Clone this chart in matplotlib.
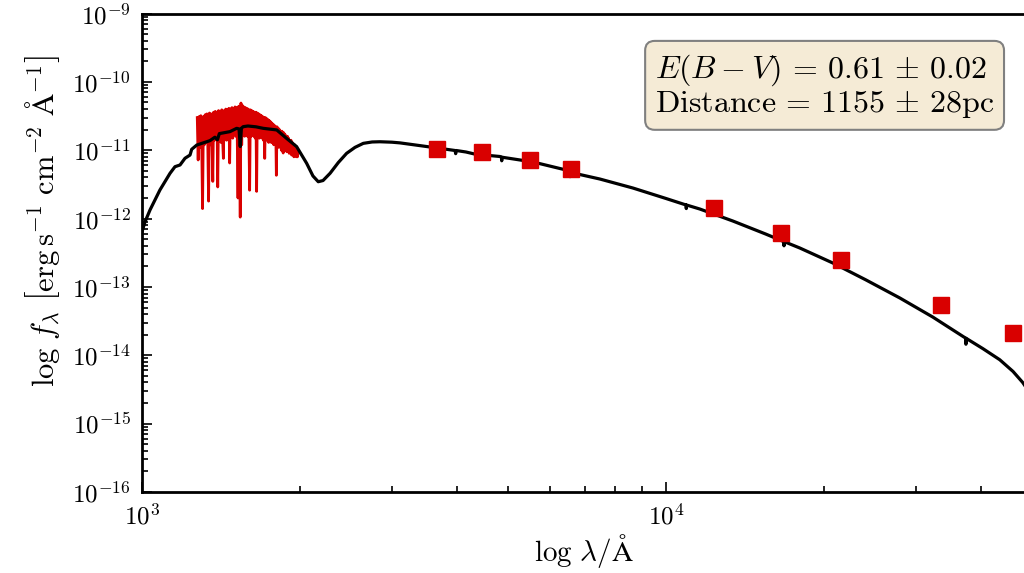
import numpy as np
import matplotlib
matplotlib.use("Agg")
import matplotlib.pyplot as plt

plt.rcParams["font.family"] = "serif"
plt.rcParams["font.serif"] = ["cmr10"]
plt.rcParams["mathtext.fontset"] = "cm"
plt.rcParams["axes.formatter.use_mathtext"] = True

# model SED (Angstrom, erg/s/cm2/A)
model_wave = [1000, 1013, 1036, 1082, 1131, 1156, 1182, 1208, 1235, 1244,
              1272, 1348, 1378, 1393, 1405, 1472, 1516, 1532, 1540, 1548,
              1560, 1593, 1650, 1704, 1808, 1888, 1973, 2062, 2120, 2170,
              2216, 2286, 2370, 2458, 2550, 2645, 2750, 2846, 3000, 3108,
              3592, 3960, 3970, 3980, 4153, 4340, 4350, 4360, 4824, 4855,
              4861, 4867, 5576, 6446, 6555, 6563, 6571, 7482, 8650, 10000,
              10930, 10940, 10950, 11610, 13420, 15510, 16800, 16810, 16820,
              18020, 20830, 24080, 27970, 32320, 37360, 37400, 37440, 40300,
              43400, 46000, 48000, 48700]
model_flux = [6.4e-13, 8.9e-13, 1.34e-12, 2.62e-12, 4.59e-12, 5.74e-12,
              6.08e-12, 7.62e-12, 8.5e-12, 1.03e-11, 1.19e-11, 1.38e-11,
              1.55e-11, 1.42e-11, 1.75e-11, 1.87e-11, 2.09e-11, 2.05e-11,
              1.13e-11, 2.1e-11, 2.21e-11, 2.26e-11, 2.2e-11, 2.09e-11,
              1.98e-11, 1.49e-11, 1.13e-11, 6.44e-12, 4.2e-12, 3.46e-12,
              3.6e-12, 4.6e-12, 6.6e-12, 9.0e-12, 1.1e-11, 1.26e-11, 1.32e-11,
              1.33e-11, 1.31e-11, 1.28e-11, 1.1e-11, 9.9e-12, 8.9e-12, 9.9e-12,
              9.42e-12, 8.7e-12, 7.8e-12, 8.7e-12, 8.09e-12, 7.9e-12, 7.0e-12,
              7.9e-12, 6.73e-12, 5.14e-12, 4.75e-12, 4.1e-12, 4.74e-12,
              3.79e-12, 2.8e-12, 1.97e-12, 1.58e-12, 1.4e-12, 1.58e-12,
              1.38e-12, 9.22e-13, 5.94e-13, 4.6e-13, 4.0e-13, 4.6e-13, 3.71e-13,
              2.24e-13, 1.27e-13, 6.89e-14, 3.63e-14, 1.78e-14, 1.45e-14,
              1.77e-14, 1.25e-14, 8.6e-15, 5.8e-15, 4.0e-15, 3.4e-15]

# UV spectrum, 5 A sampling, flux in 1e-11 erg/s/cm2/A
uv_wave = np.arange(1275, 1990, 5)
uv_flux = [3.0, 0.72, 3.1, 1.1, 3.2, 1.3, 0.14, 3.1, 1.2, 3.3,
           1.3, 3.4, 1.4, 0.18, 3.5, 1.2, 3.4, 1.5, 0.35, 3.6,
           1.4, 3.7, 1.5, 3.6, 0.29, 3.8, 1.6, 3.7, 1.3, 3.9,
           1.5, 0.76, 3.8, 1.6, 4.0, 1.4, 3.9, 1.7, 4.1, 0.65,
           4.0, 1.6, 4.2, 1.5, 4.1, 1.7, 4.3, 1.6, 4.2, 1.5,
           0.20, 4.4, 1.6, 0.105, 4.9, 1.2, 4.5, 1.7, 4.3, 1.6,
           4.2, 1.7, 4.1, 1.6, 4.0, 1.5, 0.26, 3.9, 1.6, 3.8,
           1.7, 3.7, 1.6, 3.6, 1.5, 3.6, 0.25, 3.5, 1.6, 3.4,
           1.5, 3.3, 1.6, 3.2, 1.5, 3.1, 1.4, 3.0, 0.76, 3.0,
           1.4, 2.9, 1.5, 2.8, 1.3, 2.7, 1.4, 2.6, 1.3, 2.5,
           1.3, 2.4, 1.2, 2.3, 1.3, 2.2, 0.43, 2.2, 1.2, 2.1,
           1.1, 2.0, 1.2, 1.9, 1.0, 1.9, 1.1, 0.91, 1.8, 1.0,
           1.7, 1.0, 1.6, 0.95, 1.6, 1.0, 1.5, 0.9, 1.4, 0.95,
           1.4, 0.85, 1.3, 0.9, 1.2, 0.8, 1.2, 0.85, 1.1, 0.8,
           1.0, 0.8, 0.9]
uv_flux = np.array(uv_flux) * 1e-11

# photometry U B V R J H K W1 W2
phot_wave = [3650, 4450, 5510, 6580, 12350, 16620, 21590, 33530, 46030]
phot_flux = [1.05e-11, 9.5e-12, 7.3e-12, 5.4e-12, 1.44e-12, 6.2e-13,
             2.5e-13, 5.5e-14, 2.1e-14]

red = "#d90000"

fig = plt.figure(figsize=(10.24, 5.73), dpi=100)
ax = fig.add_axes([142 / 1024, 81 / 573, 884 / 1024, 478.5 / 573])

ax.plot(uv_wave, uv_flux, color=red, lw=2.0, zorder=2)
ax.plot(model_wave, model_flux, color="black", lw=2.3, zorder=3)
ax.plot(phot_wave, phot_flux, "s", color=red, ms=11, zorder=4)

ax.set_xscale("log")
ax.set_yscale("log")
ax.set_xlim(1e3, 4.87e4)
ax.set_ylim(1e-16, 1e-9)
ax.set_yticks([10.0 ** k for k in range(-16, -8)])

for s in ax.spines.values():
    s.set_linewidth(2.0)
ax.tick_params(which="both", direction="in", top=False, right=False,
               labelsize=18, width=1.2)
ax.tick_params(which="major", length=7, pad=8)
ax.tick_params(which="minor", length=4)

ax.set_xlabel(r"$\log\,\lambda/\mathrm{\AA}$", fontsize=21, labelpad=2)
ax.set_ylabel(r"$\log\,f_\lambda\ \left[\mathrm{erg\,s^{-1}\ cm^{-2}\ \AA^{-1}}\right]$",
              fontsize=22)
ax.yaxis.set_label_coords(-0.09, 0.565)

ax.text(0.580, 0.918,
        "$E(B-V)\\,=\\,0.61\\,\\pm\\,0.02$\n$\\mathrm{Distance}\\,=\\,1155\\,\\pm\\,28\\mathrm{pc}$",
        transform=ax.transAxes, ha="left", va="top", fontsize=23,
        linespacing=1.0,
        bbox=dict(boxstyle="round,pad=0.3", facecolor="#f5ebd6",
                  edgecolor="#808080", lw=1.5))

fig.savefig("out.png", dpi=100)
